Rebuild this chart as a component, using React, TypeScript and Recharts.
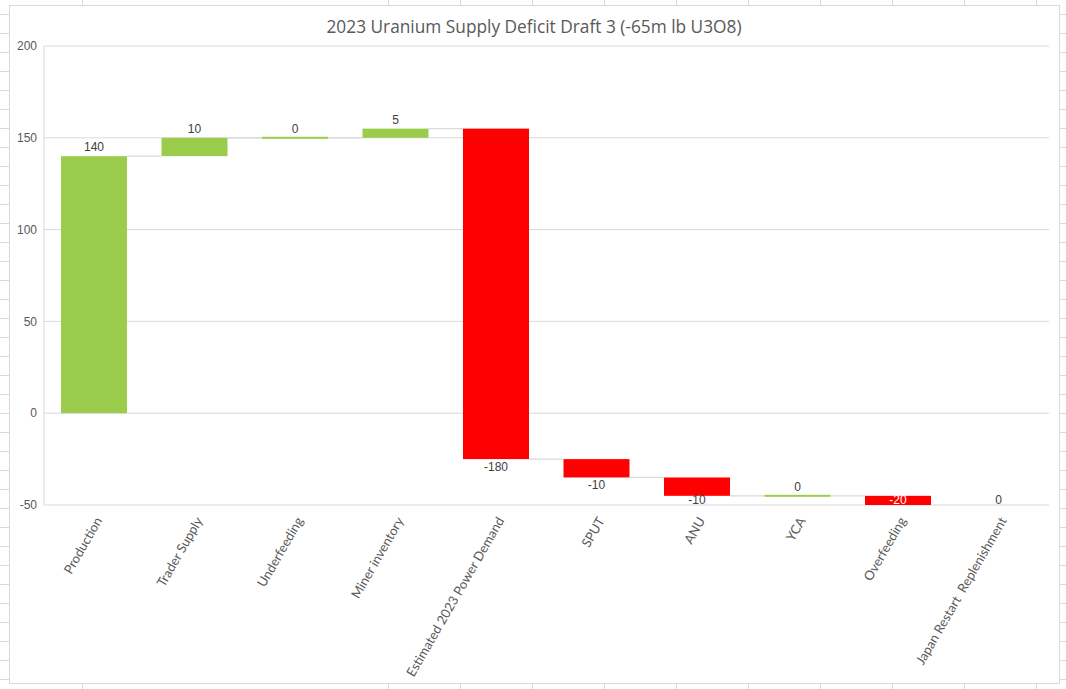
import { Bar, BarChart, CartesianGrid, LabelList, XAxis, YAxis } from "recharts"

const categories = [
  "Production",
  "Trader Supply",
  "Underfeeding",
  "Miner inventory",
  "Estimated 2023 Power Demand",
  "SPUT",
  "ANU",
  "YCA",
  "Overfeeding",
  "Japan Restart  Replenishment",
]
const changes = [140, 10, 0, 5, -180, -10, -10, 0, -20, 0]
const yTicks = [-50, 0, 50, 100, 150, 200]

const W = 1066
const H = 689
const MARGIN = { top: 46, right: 17, bottom: 14, left: 14 }
const Y_AXIS_W = 30
const X_AXIS_H = 170
const PLOT_W = W - MARGIN.left - MARGIN.right - Y_AXIS_W
const PLOT_BOTTOM = H - MARGIN.bottom - X_AXIS_H
const BAND = PLOT_W / categories.length

const UP = "#9BCC4C"
const DOWN = "#FF0000"
const GRID = "#D9D9D9"
const TEXT = "#595959"

// running totals -> floating ranges
let running = 0
const chartData = categories.map((name, i) => {
  const start = running
  running += changes[i]
  return { name, change: changes[i], range: [Math.min(start, running), Math.max(start, running)] }
})

function WaterfallBar(props: any) {
  const { x, y, width, height, index } = props
  const change = changes[index]
  const endY = change < 0 ? y + height : y
  const last = index === categories.length - 1
  return (
    <g>
      {change === 0 ? (
        <rect x={x} y={y - 1} width={width} height={2} fill={UP} />
      ) : (
        <rect x={x} y={y} width={width} height={height} fill={change > 0 ? UP : DOWN} />
      )}
      {!last && <line x1={x + width} x2={x + BAND} y1={endY} y2={endY} stroke={GRID} strokeWidth={1.3} />}
    </g>
  )
}

function ValueLabel(props: any) {
  const { x, y, width, height, value } = props
  const cx = x + width / 2
  let ty = value < 0 ? y + height + 12 : y - 5
  let fill = "#404040"
  if (ty > PLOT_BOTTOM - 1) {
    ty = PLOT_BOTTOM - 1
    // label sits on a bar that runs past the bottom of the plot
    if (y < PLOT_BOTTOM && y + height > PLOT_BOTTOM) fill = "#ffffff"
  }
  return (
    <text x={cx} y={ty} textAnchor="middle" fontSize={12} fill={fill} fontFamily="Liberation Sans Narrow, Liberation Sans, sans-serif">
      {value}
    </text>
  )
}

function CategoryTick(props: any) {
  const { x, y, payload } = props
  const ax = x + 4
  const ay = y + 5
  return (
    <text
      x={ax}
      y={ay}
      transform={`rotate(-60 ${ax} ${ay})`}
      textAnchor="end"
      dominantBaseline="central"
      fontSize={13}
      fill={TEXT}
      fontFamily="Lato, sans-serif"
      style={{ whiteSpace: "pre" }}
    >
      {payload.value}
    </text>
  )
}

export default function App() {
  const rows = Array.from({ length: 36 }, (_, k) => 14 + 19 * k)
  const cols = [82, 388, 460, 532, 604, 676, 748, 820, 892, 964, 1036]
  return (
    <div style={{ position: "absolute", left: 0, top: 0, width: W, height: H, background: "#fff", overflow: "hidden" }}>
      {rows.map((r) => (
        <div key={"l" + r} style={{ position: "absolute", left: 0, top: r, width: 9, height: 1, background: GRID }} />
      ))}
      {rows.map((r) => (
        <div key={"r" + r} style={{ position: "absolute", left: 1059, top: r, width: 7, height: 1, background: GRID }} />
      ))}
      {cols.map((c) => (
        <div key={"t" + c} style={{ position: "absolute", left: c, top: 0, width: 1, height: 5, background: GRID }} />
      ))}
      {cols.map((c) => (
        <div key={"b" + c} style={{ position: "absolute", left: c, top: 683, width: 1, height: 6, background: GRID }} />
      ))}
      <div
        style={{
          position: "absolute",
          left: 9,
          top: 5,
          width: 1051,
          height: 679,
          boxSizing: "border-box",
          border: `1px solid ${GRID}`,
          background: "#fff",
        }}
      />
      <div
        style={{
          position: "absolute",
          left: 9,
          top: 15,
          width: 1050,
          textAlign: "center",
          fontSize: 17.3,
          color: TEXT,
          fontFamily: "Open Sans, sans-serif",
        }}
      >
        2023 Uranium Supply Deficit Draft 3 (-65m lb U3O8)
      </div>
      <div style={{ position: "absolute", left: 0, top: 0 }}>
        <BarChart width={W} height={H} data={chartData} margin={MARGIN} barSize={66}>
          <CartesianGrid vertical={false} stroke={GRID} />
          <XAxis
            dataKey="name"
            interval={0}
            height={X_AXIS_H}
            axisLine={false}
            tickLine={false}
            tick={<CategoryTick />}
          />
          <YAxis
            width={Y_AXIS_W}
            domain={[-50, 200]}
            ticks={yTicks}
            allowDataOverflow
            axisLine={{ stroke: GRID }}
            tickLine={false}
            tickSize={0}
            tickMargin={7}
            tick={{ fontSize: 12, fill: TEXT, fontFamily: "Liberation Sans Narrow, Liberation Sans, sans-serif" }}
          />
          <Bar dataKey="range" shape={<WaterfallBar />} isAnimationActive={false}>
            <LabelList dataKey="change" content={<ValueLabel />} />
          </Bar>
        </BarChart>
      </div>
    </div>
  )
}
